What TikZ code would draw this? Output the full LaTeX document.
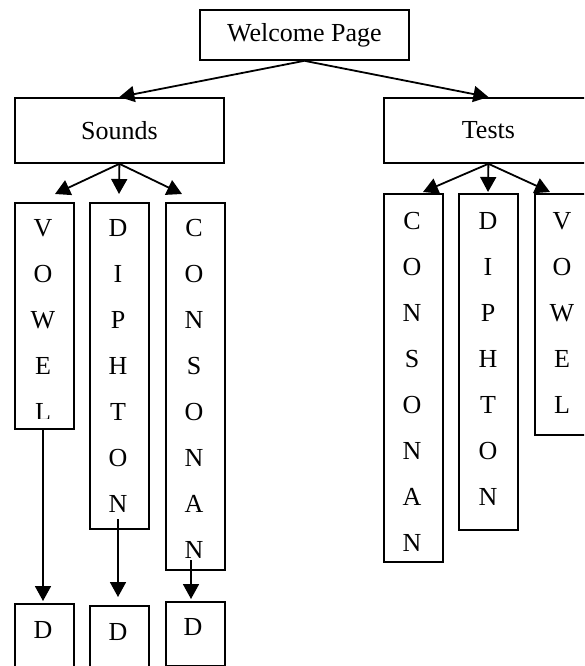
\documentclass[tikz,border=0pt]{standalone}
\usepackage{fontspec}
\setmainfont{Liberation Serif}
\usetikzlibrary{arrows.meta}
\begin{document}
\begin{tikzpicture}[x=1pt,y=-1pt,
  box/.style={draw,line width=1.8pt,inner sep=0pt,anchor=north west},
  lbl/.style={font=\fontsize{26}{30}\selectfont,inner sep=0pt},
  arr/.style={line width=1.8pt,-{Triangle[length=15pt,width=16pt]}}]
\useasboundingbox (0,0) rectangle (584,666);
\clip (0,0) rectangle (584,666);

% top level
\node[box,lbl,minimum width=209pt,minimum height=50pt] (welcome) at (199,9) {Welcome Page};
\node[box,lbl,minimum width=209pt,minimum height=65pt] (sounds) at (14,97) {Sounds};
\node[box,lbl,minimum width=209pt,minimum height=65pt] (tests) at (383,97) {Tests};

% left columns (Sounds)
\node[box,minimum width=59pt,minimum height=226pt] (svowel) at (14,202) {};
\node[box,minimum width=59pt,minimum height=326pt] (sdiph) at (89,202) {};
\node[box,minimum width=59pt,minimum height=367pt] (scons) at (165,202) {};
\begin{scope}
  \clip (14,202) rectangle (73,418);
  \foreach \c [count=\i from 0] in {V,O,W,E,L}
    \node[lbl] (sv\i) at (43,228+46*\i) {\c};
\end{scope}
\foreach \c [count=\i from 0] in {D,I,P,H,T,O,N}
  \node[lbl] (sd\i) at (118,228+46*\i) {\c};
\foreach \c [count=\i from 0] in {C,O,N,S,O,N,A,N}
  \node[lbl] (sc\i) at (194,228+46*\i) {\c};

% right columns (Tests)
\node[box,minimum width=59pt,minimum height=368pt] (tcons) at (383,193) {};
\node[box,minimum width=59pt,minimum height=336pt] (tdiph) at (458,193) {};
\node[box,minimum width=59pt,minimum height=241pt] (tvowel) at (534,193) {};
\foreach \c [count=\i from 0] in {C,O,N,S,O,N,A,N}
  \node[lbl] (tc\i) at (412,221+46*\i) {\c};
\foreach \c [count=\i from 0] in {D,I,P,H,T,O,N}
  \node[lbl] (td\i) at (488,221+46*\i) {\c};
\foreach \c [count=\i from 0] in {V,O,W,E,L}
  \node[lbl] (tv\i) at (562,221+46*\i) {\c};

% bottom D boxes
\node[box,minimum width=59pt,minimum height=90pt] (d1) at (14,603) {};
\node[box,minimum width=59pt,minimum height=90pt] (d2) at (89,605) {};
\node[box,minimum width=59pt,minimum height=64pt] (d3) at (165,601) {};
\node[lbl] (d1t) at (43,630) {D};
\node[lbl] (d2t) at (118,632) {D};
\node[lbl] (d3t) at (193,627) {D};

% connector end points
\coordinate (sva) at (55,194);
\coordinate (sda) at (119,194);
\coordinate (sca) at (182,194);
\coordinate (tca) at (423,192);
\coordinate (tda) at (488,192);
\coordinate (tva) at (550,192);
\coordinate (dsrc1) at (43,428);
\coordinate (dsrc2) at (118,519);
\coordinate (dsrc3) at (191,560);
\coordinate (d1a) at (43,601);
\coordinate (d2a) at (118,597);
\coordinate (d3a) at (191,599);

% connectors
\draw[arr] (welcome.south) -- (sounds.north);
\draw[arr] (welcome.south) -- (tests.north);
\draw[arr] (sounds.south) -- (sva);
\draw[arr] (sounds.south) -- (sda);
\draw[arr] (sounds.south) -- (sca);
\draw[arr] (tests.south) -- (tca);
\draw[arr] (tests.south) -- (tda);
\draw[arr] (tests.south) -- (tva);
\draw[arr] (dsrc1) -- (d1a);
\draw[arr] (dsrc2) -- (d2a);
\draw[arr] (dsrc3) -- (d3a);
\end{tikzpicture}
\end{document}
